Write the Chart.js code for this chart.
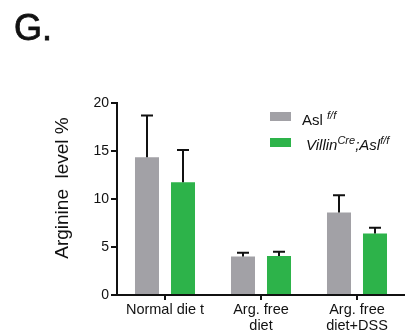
<!DOCTYPE html>
<html>
<head>
<meta charset="utf-8">
<script src="https://cdn.jsdelivr.net/npm/chart.js@4.4.1/dist/chart.umd.min.js"></script>
<style>
  html, body { margin: 0; padding: 0; background: #fff; }
  #wrap { position: relative; width: 405px; height: 335px; font-family: "Liberation Sans", Arial, sans-serif; color: #111; }
  #chart { position: absolute; left: 0; top: 0; }
  .panel { position: absolute; left: 14px; top: 6px; font-size: 36px; line-height: 44px; -webkit-text-stroke: 0.8px #111; }
  .key { position: absolute; width: 21px; height: 9px; }
  .lab { position: absolute; font-size: 15px; line-height: 15px; white-space: nowrap; }
  .lab sup { font-size: 11px; font-style: italic; vertical-align: 6px; line-height: 0; }
</style>
</head>
<body>
<div id="wrap">
  <canvas id="chart" width="405" height="335"></canvas>
  <div class="panel">G.</div>
  <div class="key" id="keyGray" style="left:270px; top:112px;"></div>
  <div class="lab" style="left:302px; top:112px;">Asl <sup>f/f</sup></div>
  <div class="key" id="keyGreen" style="left:270px; top:138px;"></div>
  <div class="lab" style="left:306px; top:137px; font-style:italic;">Villin<sup>Cre</sup>;Asl<sup>f/f</sup></div>
</div>
<script>
// ===== DATA =====
const categories = [["Normal die t"], ["Arg. free", "diet"], ["Arg. free", "diet+DSS"]];
const aslMeans = [14.35, 4.0, 8.6];
const aslErr = [4.35, 0.4, 1.8];
const villinMeans = [11.75, 4.05, 6.4];
const villinErr = [3.35, 0.45, 0.6];
const yTicks = [0, 5, 10, 15, 20];

const GRAY = "#a2a1a6";
const GREEN = "#2db34a";
const INK = "#111";

document.getElementById("keyGray").style.background = GRAY;
document.getElementById("keyGreen").style.background = GREEN;

// ===== PLUGINS =====
// upward error bars with a cap, one per bar
const errorBars = {
  id: "errorBars",
  afterDatasetsDraw(chart) {
    const { ctx, scales } = chart;
    chart.data.datasets.forEach((ds, i) => {
      const meta = chart.getDatasetMeta(i);
      meta.data.forEach((bar, j) => {
        const top = scales.y.getPixelForValue(ds.data[j] + ds.errors[j]);
        ctx.save();
        ctx.strokeStyle = INK;
        ctx.lineWidth = 2;
        ctx.beginPath();
        ctx.moveTo(bar.x, bar.y);
        ctx.lineTo(bar.x, top);
        ctx.moveTo(bar.x - 6, top);
        ctx.lineTo(bar.x + 6, top);
        ctx.stroke();
        ctx.restore();
      });
    });
  }
};

// y axis title, drawn a bit above the axis centre as in the figure
const yTitle = {
  id: "yTitle",
  afterDraw(chart) {
    const ctx = chart.ctx;
    ctx.save();
    ctx.translate(63, 188);
    ctx.rotate(-Math.PI / 2);
    ctx.font = "19px 'Liberation Sans', Arial, sans-serif";
    ctx.fillStyle = INK;
    ctx.textAlign = "center";
    ctx.textBaseline = "middle";
    ctx.fillText("Arginine  level %", 0, 0);
    ctx.restore();
  }
};

// ===== CHART =====
new Chart(document.getElementById("chart").getContext("2d"), {
  type: "bar",
  data: {
    labels: categories,
    datasets: [
      { label: "Asl f/f", data: aslMeans, errors: aslErr, backgroundColor: GRAY },
      { label: "VillinCre;Asl f/f", data: villinMeans, errors: villinErr, backgroundColor: GREEN }
    ]
  },
  options: {
    responsive: false,
    animation: false,
    events: [],
    layout: { padding: { top: 103, left: 0, right: 0, bottom: 0 } },
    datasets: { bar: { categoryPercentage: 0.75, barPercentage: 0.667 } },
    plugins: { legend: { display: false }, tooltip: { enabled: false } },
    scales: {
      x: {
        offset: true,
        afterFit(scale) { scale.height = 40; },
        grid: { display: true, offset: false, drawOnChartArea: false, drawTicks: true, tickLength: 5, color: INK, lineWidth: 2 },
        border: { display: true, color: INK, width: 2 },
        ticks: { color: INK, padding: 2, maxRotation: 0, autoSkip: false, font: { family: "'Liberation Sans', Arial, sans-serif", size: 14.5, lineHeight: 1.1 } }
      },
      y: {
        min: 0,
        max: 20,
        afterFit(scale) { scale.width = 117; },
        afterBuildTicks(scale) { scale.ticks = yTicks.map(v => ({ value: v })); },
        grid: { display: true, drawOnChartArea: false, drawTicks: true, tickLength: 6, color: INK, lineWidth: 2 },
        border: { display: true, color: INK, width: 2 },
        ticks: { color: INK, padding: 2, font: { family: "'Liberation Sans', Arial, sans-serif", size: 14 } }
      }
    }
  },
  plugins: [errorBars, yTitle]
});
</script>
</body>
</html>
